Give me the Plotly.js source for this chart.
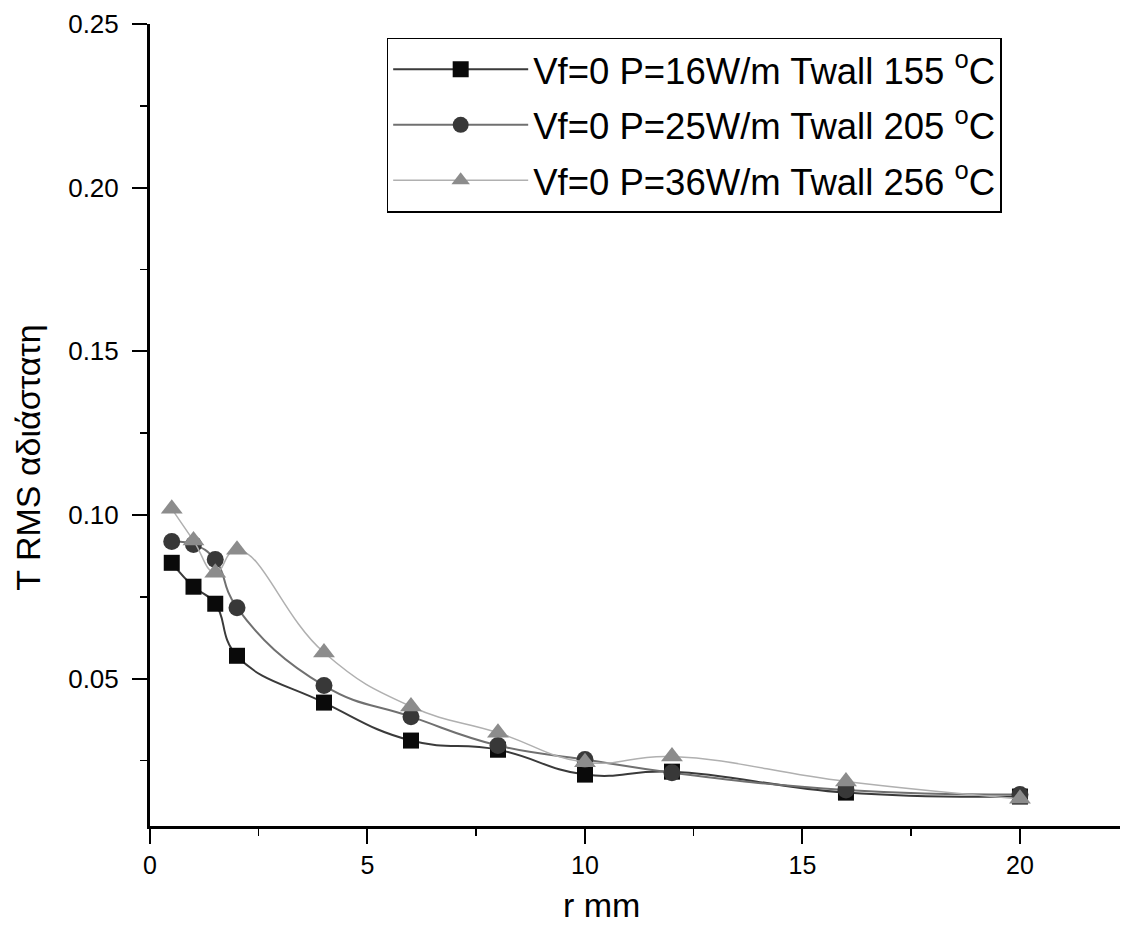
<!DOCTYPE html>
<html>
<head>
<meta charset="utf-8">
<script src="https://cdn.plot.ly/plotly-3.0.1.min.js"></script>
<style>html,body{margin:0;padding:0;background:#fff;}#chart{width:1123px;height:928px;}</style>
</head>
<body>
<div id="chart"></div>
<script>
const rValues = [0.5, 1, 1.5, 2, 4, 6, 8, 10, 12, 16, 20];
const seriesNames = [
  "Vf=0 P=16W/m Twall 155 <sup>o</sup>C",
  "Vf=0 P=25W/m Twall 205 <sup>o</sup>C",
  "Vf=0 P=36W/m Twall 256 <sup>o</sup>C"
];
const trms16 = [0.0854, 0.0781, 0.0729, 0.0570, 0.0427, 0.0311, 0.0283, 0.0207, 0.0216, 0.0152, 0.0140];
const trms25 = [0.0919, 0.0910, 0.0864, 0.0717, 0.0479, 0.0384, 0.0296, 0.0253, 0.0213, 0.0160, 0.0146];
const trms36 = [0.1019, 0.0922, 0.0824, 0.0894, 0.0580, 0.0415, 0.0335, 0.0245, 0.0262, 0.0186, 0.0133];
const xTickVals = [0, 5, 10, 15, 20];
const yTickVals = [0.05, 0.10, 0.15, 0.20, 0.25];

const styles = [
  {symbol: "square", mcolor: "#0a0a0a", lcolor: "#3a3a3a", lw: 2, size: 16},
  {symbol: "circle", mcolor: "#383838", lcolor: "#707070", lw: 2, size: 17},
  {symbol: "triangle-up", mcolor: "#8c8c8c", lcolor: "#b0b0b0", lw: 1.5, size: 19}
];
const seriesData = [trms16, trms25, trms36];

const traces = seriesData.map((ys, i) => ({
  x: rValues,
  y: ys,
  name: seriesNames[i],
  legendgroup: "g" + i,
  type: "scatter",
  mode: "lines+markers",
  line: {shape: "spline", smoothing: 1.3, color: styles[i].lcolor, width: styles[i].lw},
  marker: {symbol: styles[i].symbol, size: styles[i].size, color: styles[i].mcolor, line: {width: 0}}
}));

const layout = {
  width: 1123,
  height: 928,
  margin: {l: 150, r: 3, t: 24, b: 102},
  paper_bgcolor: "#ffffff",
  plot_bgcolor: "#ffffff",
  font: {family: "Liberation Sans, Arial, sans-serif", color: "#000"},
  showlegend: true,
  legend: {
    x: 0.244, y: 0.983, xanchor: "left", yanchor: "top",
    bordercolor: "#000", borderwidth: 1.5, bgcolor: "#fff",
    font: {size: 36.5, family: "Liberation Sans, Arial, sans-serif", color: "#000"},
    itemwidth: 135,
    tracegroupgap: 5,
    traceorder: "grouped"
  },
  xaxis: {
    range: [0, 22.3],
    tickvals: xTickVals,
    ticktext: xTickVals.map(String),
    ticks: "outside", ticklen: 15, tickwidth: 2, tickcolor: "#000",
    minor: {dtick: 2.5, tick0: 0, ticks: "outside", ticklen: 7, tickwidth: 1.5, tickcolor: "#000"},
    showline: true, linecolor: "#000", linewidth: 3,
    showgrid: false, zeroline: false,
    tickfont: {size: 25, family: "Liberation Sans, Arial, sans-serif"}
  },
  yaxis: {
    range: [0.005, 0.25],
    tickvals: yTickVals,
    ticktext: yTickVals.map(v => v.toFixed(2)),
    ticks: "outside", ticklen: 15, tickwidth: 2, tickcolor: "#000",
    ticklabelstandoff: 8,
    minor: {dtick: 0.025, tick0: 0, ticks: "outside", ticklen: 7, tickwidth: 1.5, tickcolor: "#000"},
    showline: true, linecolor: "#000", linewidth: 3,
    showgrid: false, zeroline: false,
    tickfont: {size: 26, family: "Liberation Sans, Arial, sans-serif"}
  },
  annotations: [
    {text: "r mm", xref: "x", yref: "paper", x: 10.37, y: -0.099, xanchor: "center", yanchor: "middle",
     showarrow: false, font: {size: 34, family: "Liberation Sans, Arial, sans-serif"}},
    {text: "T RMS αδιάστατη", xref: "paper", yref: "paper", x: -0.126, y: 0.459, xanchor: "center", yanchor: "middle",
     textangle: -90, showarrow: false, font: {size: 34, family: "Liberation Sans, Arial, sans-serif"}}
  ]
};

Plotly.newPlot("chart", traces, layout, {displayModeBar: false, staticPlot: true});
</script>
</body>
</html>
